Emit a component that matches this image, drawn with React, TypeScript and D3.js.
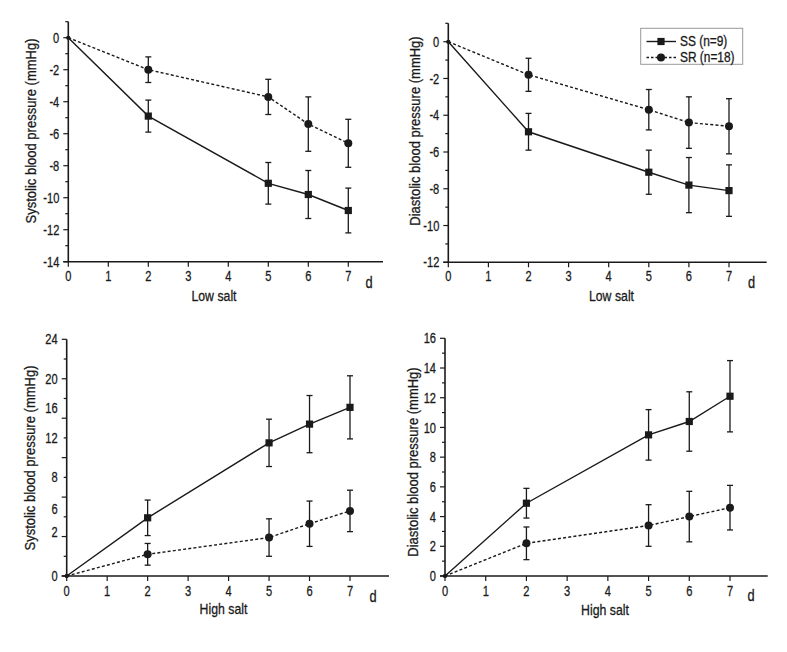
import React from "react";
import * as d3 from "d3";

// ---- data ----
const days = [0, 2, 5, 6, 7];
const xTicks = [0, 1, 2, 3, 4, 5, 6, 7];

// Systolic, low salt
const sysLowSS = [0, -4.9, -9.1, -9.8, -10.8];
const sysLowSSErr = [0, 1.0, 1.3, 1.5, 1.4];
const sysLowSR = [0, -2.0, -3.7, -5.4, -6.6];
const sysLowSRErr = [0, 0.8, 1.1, 1.7, 1.5];

// Diastolic, low salt
const diaLowSS = [0, -4.9, -7.1, -7.8, -8.1];
const diaLowSSErr = [0, 1.0, 1.2, 1.5, 1.4];
const diaLowSR = [0, -1.8, -3.7, -4.4, -4.6];
const diaLowSRErr = [0, 0.9, 1.1, 1.4, 1.5];

// Systolic, high salt
const sysHighSS = [0, 5.9, 13.5, 15.4, 17.1];
const sysHighSSErr = [0, 1.8, 2.4, 2.9, 3.2];
const sysHighSR = [0, 2.2, 3.9, 5.3, 6.6];
const sysHighSRErr = [0, 1.1, 1.9, 2.3, 2.1];

// Diastolic, high salt
const diaHighSS = [0, 4.9, 9.5, 10.4, 12.1];
const diaHighSSErr = [0, 1.0, 1.7, 2.0, 2.4];
const diaHighSR = [0, 2.2, 3.4, 4.0, 4.6];
const diaHighSRErr = [0, 1.1, 1.4, 1.7, 1.5];

// tick labels (text, value where printed)
const sysLowTicks = [0, -2, -4, -6, -8, -10, -12, -14];
const diaLowTicks = [0, -2, -4, -6, -8, -10, -12];
const sysHighTickLabels = ["24", "20", "16", "12", "8", "6", "2", "0"];
const sysHighTickAt = [24, 20, 17, 14, 10, 6.8, 4.5, 0];
const diaHighTicks = [0, 2, 4, 6, 8, 10, 12, 14, 16];

const legendLabels = ["SS (n=9)", "SR (n=18)"];

const FONT = "'Liberation Sans', Arial, sans-serif";
const INK = "#1a1a1a";

type PanelCfg = {
  x0: number; x7: number; xEnd: number;
  yDomain: [number, number]; yRange: [number, number]; yTop: number;
  major: number; minor: number;
  labels: { text: string; at: number }[];
  ss: number[]; ssErr: number[]; sr: number[]; srErr: number[];
  yTitle: string; yTitleX: number; yTitleY: number;
  xTitle: string; xTitleX: number; xTitleY: number;
  tickLabelY: number; dX: number; dY: number;
};

const panels: PanelCfg[] = [
  {
    x0: 68.3, x7: 348.3, xEnd: 383,
    yDomain: [-14, 0], yRange: [261.7, 37.7], yTop: 21.7,
    major: 2, minor: 1,
    labels: sysLowTicks.map((v) => ({ text: String(v), at: v })),
    ss: sysLowSS, ssErr: sysLowSSErr, sr: sysLowSR, srErr: sysLowSRErr,
    yTitle: "Systolic blood pressure (mmHg)", yTitleX: 31, yTitleY: 131,
    xTitle: "Low salt", xTitleX: 214, xTitleY: 296,
    tickLabelY: 276, dX: 369, dY: 282,
  },
  {
    x0: 448.3, x7: 729, xEnd: 766.7,
    yDomain: [-12, 0], yRange: [262.3, 41.7], yTop: 23.3,
    major: 2, minor: 1,
    labels: diaLowTicks.map((v) => ({ text: String(v), at: v })),
    ss: diaLowSS, ssErr: diaLowSSErr, sr: diaLowSR, srErr: diaLowSRErr,
    yTitle: "Diastolic blood pressure (mmHg)", yTitleX: 415, yTitleY: 131,
    xTitle: "Low salt", xTitleX: 611.5, xTitleY: 296,
    tickLabelY: 276, dX: 751.5, dY: 282,
  },
  {
    x0: 66.7, x7: 350, xEnd: 389,
    yDomain: [0, 24], yRange: [576, 339.3], yTop: 339.3,
    major: 4, minor: 2,
    labels: sysHighTickLabels.map((t, i) => ({ text: t, at: sysHighTickAt[i] })),
    ss: sysHighSS, ssErr: sysHighSSErr, sr: sysHighSR, srErr: sysHighSRErr,
    yTitle: "Systolic blood pressure (mmHg)", yTitleX: 30, yTitleY: 458,
    xTitle: "High salt", xTitleX: 223.5, xTitleY: 609,
    tickLabelY: 591, dX: 373, dY: 596.5,
  },
  {
    x0: 445, x7: 730, xEnd: 767.7,
    yDomain: [0, 16], yRange: [576, 338.3], yTop: 338.3,
    major: 2, minor: 1,
    labels: diaHighTicks.map((v) => ({ text: String(v), at: v })),
    ss: diaHighSS, ssErr: diaHighSSErr, sr: diaHighSR, srErr: diaHighSRErr,
    yTitle: "Diastolic blood pressure (mmHg)", yTitleX: 413, yTitleY: 462,
    xTitle: "High salt", xTitleX: 605, xTitleY: 610,
    tickLabelY: 590.5, dX: 751, dY: 595,
  },
];

// condensed text helper: horizontally squeezed glyphs
function T({ x, y, size, sx, anchor, rotate, children }: any) {
  const rot = rotate ? ` rotate(${rotate})` : "";
  return (
    <g transform={`translate(${x},${y})${rot} scale(${sx},1)`}>
      <text x={0} y={0} textAnchor={anchor || "middle"} dominantBaseline="central"
        fontSize={size} fill={INK} stroke={INK} strokeWidth={0.3} fontFamily={FONT}>{children}</text>
    </g>
  );
}

function Series({ xs, ys, vals, errs, dashed, square }: any) {
  const line = d3.line<number>().x((_, i) => xs(days[i])).y((v) => ys(v));
  return (
    <g>
      <path d={line(vals) || ""} fill="none" stroke={INK} strokeWidth={1.4}
        strokeDasharray={dashed ? "3,2.2" : undefined} />
      {vals.map((v: number, i: number) => {
        if (i === 0) return null;
        const x = xs(days[i]);
        const yHi = ys(v + errs[i]);
        const yLo = ys(v - errs[i]);
        return (
          <g key={"e" + i} stroke={INK} strokeWidth={1.3}>
            <line x1={x} x2={x} y1={yHi} y2={yLo} />
            <line x1={x - 3} x2={x + 3} y1={yHi} y2={yHi} />
            <line x1={x - 3} x2={x + 3} y1={yLo} y2={yLo} />
          </g>
        );
      })}
      {vals.map((v: number, i: number) => {
        const x = xs(days[i]);
        const y = ys(v);
        if (i === 0) return <circle key={"m" + i} cx={x} cy={y} r={2} fill={INK} />;
        return square ? (
          <rect key={"m" + i} x={x - 3.6} y={y - 3.6} width={7.2} height={7.2} fill={INK} />
        ) : (
          <circle key={"m" + i} cx={x} cy={y} r={4} fill={INK} />
        );
      })}
    </g>
  );
}

function Panel({ p }: { p: PanelCfg }) {
  const xs = d3.scaleLinear().domain([0, 7]).range([p.x0, p.x7]);
  const ys = d3.scaleLinear().domain(p.yDomain).range(p.yRange);
  const yBottom = p.yRange[0];
  const minorTicks = d3.range(p.yDomain[0], p.yDomain[1] + 0.001, p.minor);
  const yTopVal = ys.invert(p.yTop);
  const extraMinor = d3.range(p.yDomain[1] + p.minor, yTopVal + 0.001, p.minor);
  return (
    <g>
      <line x1={p.x0} x2={p.x0} y1={p.yTop} y2={yBottom} stroke={INK} strokeWidth={1.6} />
      <line x1={p.x0 - 5} x2={p.xEnd} y1={yBottom} y2={yBottom} stroke={INK} strokeWidth={1.6} />
      {minorTicks.concat(extraMinor).map((v) => {
        const isMajor = Math.abs(Math.round(v / p.major) * p.major - v) < 1e-6;
        return (
          <line key={"yt" + v} x1={p.x0 - (isMajor ? 5 : 3)} x2={p.x0} y1={ys(v)} y2={ys(v)}
            stroke={INK} strokeWidth={1.2} />
        );
      })}
      {p.labels.map((l) => (
        <T key={"yl" + l.text} x={p.x0 - 9} y={ys(l.at)} size={15} sx={0.74} anchor="end">{l.text}</T>
      ))}
      {xTicks.map((t) => (
        <g key={"xt" + t}>
          <line x1={xs(t)} x2={xs(t)} y1={yBottom} y2={yBottom + 5} stroke={INK} strokeWidth={1.2} />
          <T x={xs(t)} y={p.tickLabelY} size={15} sx={0.74}>{t}</T>
        </g>
      ))}
      <T x={p.dX} y={p.dY} size={16} sx={0.8}>d</T>
      <T x={p.xTitleX} y={p.xTitleY} size={15} sx={0.82}>{p.xTitle}</T>
      <T x={p.yTitleX} y={p.yTitleY} size={15.5} sx={0.84} rotate={-90}>{p.yTitle}</T>
      <Series xs={xs} ys={ys} vals={p.sr} errs={p.srErr} dashed square={false} />
      <Series xs={xs} ys={ys} vals={p.ss} errs={p.ssErr} dashed={false} square />
    </g>
  );
}

function Legend() {
  const lx = 640.7, ly = 28.3, w = 102, h = 36;
  const rows = [41.5, 57.5];
  return (
    <g>
      <rect x={lx} y={ly} width={w} height={h} fill="white" stroke="#999" strokeWidth={1} />
      {legendLabels.map((lab, i) => (
        <g key={lab}>
          <line x1={646.5} x2={676} y1={rows[i]} y2={rows[i]} stroke={INK} strokeWidth={1.4}
            strokeDasharray={i === 1 ? "2.5,2" : undefined} />
          {i === 0 ? (
            <rect x={661 - 3.6} y={rows[i] - 3.6} width={7.2} height={7.2} fill={INK} />
          ) : (
            <circle cx={661} cy={rows[i]} r={4} fill={INK} />
          )}
          <T x={680} y={rows[i]} size={14} sx={0.85} anchor="start">{lab}</T>
        </g>
      ))}
    </g>
  );
}

export default function App() {
  return (
    <svg width={787} height={652} style={{ position: "absolute", left: 0, top: 0, background: "white" }}>
      <rect width={787} height={652} fill="white" />
      {panels.map((p, i) => <Panel key={i} p={p} />)}
      <Legend />
    </svg>
  );
}
